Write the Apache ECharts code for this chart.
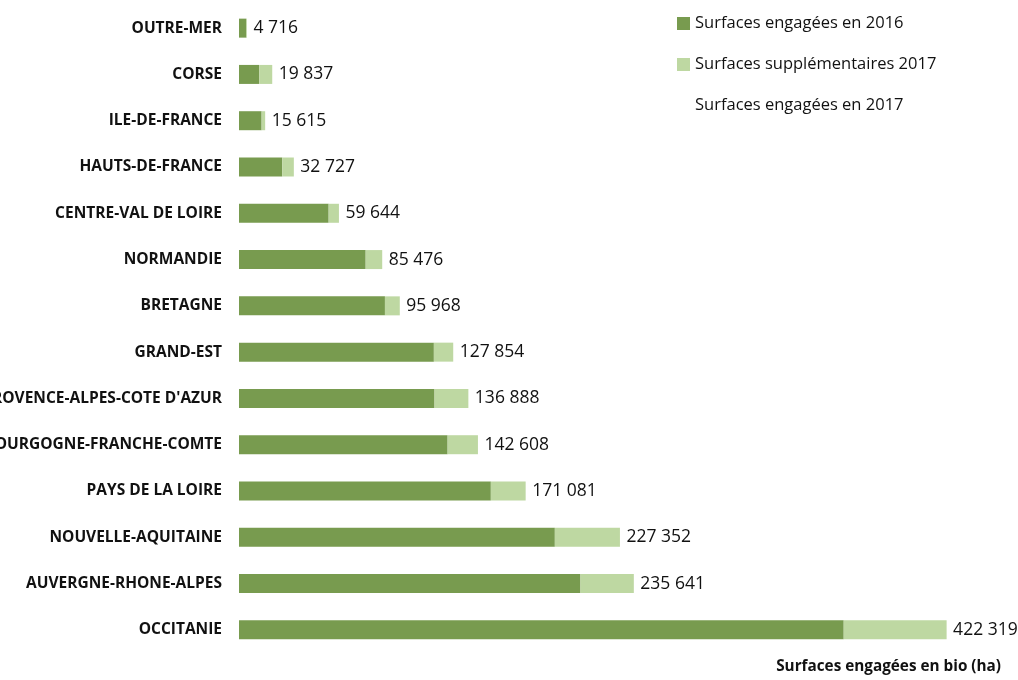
<!DOCTYPE html>
<html>
<head>
<meta charset="utf-8">
<title>Surfaces engagées en bio</title>
<script src="https://cdn.jsdelivr.net/npm/echarts@6/dist/echarts.min.js"></script>
<style>
  html, body { margin: 0; padding: 0; background: #fff; }
  #chart { width: 1018px; height: 680px; }
</style>
</head>
<body>
<div id="chart"></div>
<script>
// régions, du haut vers le bas
const regions = [
  "OUTRE-MER", "CORSE", "ILE-DE-FRANCE", "HAUTS-DE-FRANCE", "CENTRE-VAL DE LOIRE",
  "NORMANDIE", "BRETAGNE", "GRAND-EST", "PROVENCE-ALPES-COTE D'AZUR",
  "BOURGOGNE-FRANCHE-COMTE", "PAYS DE LA LOIRE", "NOUVELLE-AQUITAINE",
  "AUVERGNE-RHONE-ALPES", "OCCITANIE"
];
// surfaces engagées en 2016 (ha)
const surf2016 = [
  4400, 12100, 13500, 25800, 53500, 75600, 87100,
  116300, 116700, 124500, 150300, 188500, 203800, 360900
];
// surfaces supplémentaires 2017 (ha)
const supp2017 = [
  316, 7737, 2115, 6927, 6144, 9876, 8868,
  11554, 20188, 18108, 20781, 38852, 31841, 61419
];
// total 2017 (étiquettes)
const total2017 = [
  4716, 19837, 15615, 32727, 59644, 85476, 95968,
  127854, 136888, 142608, 171081, 227352, 235641, 422319
];

const dark = "#789b4f";
const light = "#bed8a2";
const fontFam = "'Open Sans', sans-serif";

const fmt = (v) => String(v).replace(/\B(?=(\d{3})+(?!\d))/g, " ");

const chart = echarts.init(document.getElementById("chart"));

const option = {
  animation: false,
  textStyle: { fontFamily: fontFam },
  grid: {
    left: 239,
    right: 25,
    top: 5,
    bottom: 27,
    containLabel: false,
    outerBoundsMode: "none",
  },
  legend: {
    orient: "vertical",
    left: 672,
    top: 10,
    itemWidth: 13,
    itemHeight: 13,
    itemGap: 24,
    textStyle: { fontSize: 16.5, color: "#111", fontFamily: fontFam },
    data: [
      { name: "Surfaces engagées en 2016", icon: "rect" },
      { name: "Surfaces supplémentaires 2017", icon: "rect" },
      { name: "Surfaces engagées en 2017", icon: "none" },
    ],
  },
  title: {
    text: "Surfaces engagées en bio (ha)",
    right: 12,
    bottom: 1,
    textStyle: { fontSize: 15.3, fontWeight: "bold", color: "#111", fontFamily: fontFam },
  },
  xAxis: {
    type: "value",
    min: 0,
    max: 450000,
    axisLine: { show: false },
    axisTick: { show: false },
    axisLabel: { show: false },
    splitLine: { show: false },
  },
  yAxis: {
    type: "category",
    inverse: true,
    data: regions,
    axisLine: { show: false },
    axisTick: { show: false },
    axisLabel: {
      margin: 17,
      fontSize: 15.5,
      fontWeight: "bold",
      color: "#111",
      fontFamily: fontFam,
    },
  },
  series: [
    {
      name: "Surfaces engagées en 2016",
      type: "bar",
      stack: "s",
      barWidth: 19,
      itemStyle: { color: dark },
      data: surf2016,
    },
    {
      name: "Surfaces supplémentaires 2017",
      type: "bar",
      stack: "s",
      barWidth: 19,
      itemStyle: { color: light },
      data: supp2017,
    },
    {
      // série invisible qui porte les étiquettes du total
      name: "Surfaces engagées en 2017",
      type: "line",
      data: total2017,
      symbol: "circle",
      symbolSize: 1,
      itemStyle: { color: "rgba(0,0,0,0)" },
      lineStyle: { opacity: 0 },
      label: {
        show: true,
        position: "right",
        distance: 6,
        fontSize: 17.5,
        color: "#111",
        fontFamily: fontFam,
        formatter: (p) => fmt(p.value),
      },
      z: 5,
    },
  ],
};

chart.setOption(option);
</script>
</body>
</html>
